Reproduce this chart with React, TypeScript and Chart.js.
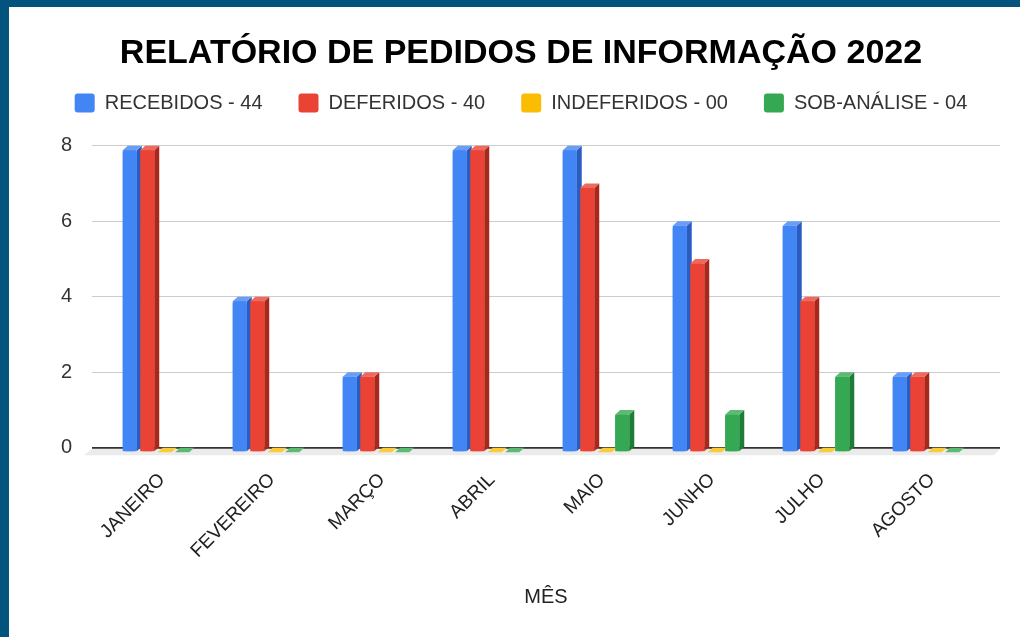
import React, { useEffect, useRef } from "react";
import { Chart, registerables } from "chart.js";

Chart.register(...registerables);

const TITLE = "RELATÓRIO DE PEDIDOS DE INFORMAÇÃO 2022";
const MONTHS = ["JANEIRO", "FEVEREIRO", "MARÇO", "ABRIL", "MAIO", "JUNHO", "JULHO", "AGOSTO"];
const SERIES_NAMES = ["RECEBIDOS - 44", "DEFERIDOS - 40", "INDEFERIDOS - 00", "SOB-ANÁLISE - 04"];
const RECEBIDOS = [8, 4, 2, 8, 8, 6, 6, 2];
const DEFERIDOS = [8, 4, 2, 8, 7, 5, 4, 2];
const INDEFERIDOS = [0, 0, 0, 0, 0, 0, 0, 0];
const SOB_ANALISE = [0, 0, 0, 0, 1, 1, 2, 0];
const Y_TICKS = [0, 2, 4, 6, 8];
const X_TITLE = "MÊS";

const FRONT = ["#4285f4", "#ea4335", "#fbbc04", "#34a853"];
const SIDE = ["#2c5cc0", "#a8291b", "#c89300", "#1f7c36"];
const TOPC = ["#6a9ef6", "#ef6a5e", "#fccb3a", "#5cba73"];

const DX = 5;
const DY = 4.5;

const threeD = {
  id: "threeD",
  beforeDatasetsDraw(chart: any) {
    const { ctx, chartArea: a } = chart;
    ctx.save();
    ctx.fillStyle = "#ebebeb";
    ctx.beginPath();
    ctx.moveTo(a.left, a.bottom + 1);
    ctx.lineTo(a.right, a.bottom + 1);
    ctx.lineTo(a.right - 6, a.bottom + 7.5);
    ctx.lineTo(a.left - 8, a.bottom + 7.5);
    ctx.closePath();
    ctx.fill();
    ctx.restore();
    ctx.save();
    ctx.translate(0, DY);
  },
  afterDatasetsDraw(chart: any) {
    const ctx = chart.ctx;
    ctx.restore();
    ctx.save();
    const bars: any[] = [];
    chart.data.datasets.forEach((_: any, di: number) => {
      const meta = chart.getDatasetMeta(di);
      meta.data.forEach((bar: any) => {
        const p = bar.getProps(["x", "y", "base", "width"], true);
        bars.push({ di, ...p });
      });
    });
    bars.forEach((b) => {
      const l = b.x - b.width / 2;
      const r = b.x + b.width / 2;
      const top = Math.min(b.y, b.base) + DY;
      const bottom = Math.max(b.y, b.base) + DY;
      ctx.fillStyle = SIDE[b.di];
      ctx.beginPath();
      ctx.moveTo(r, top);
      ctx.lineTo(r + DX, top - DY);
      ctx.lineTo(r + DX, bottom - DY);
      ctx.lineTo(r, bottom);
      ctx.closePath();
      ctx.fill();
      ctx.fillStyle = TOPC[b.di];
      ctx.beginPath();
      ctx.moveTo(l, top);
      ctx.lineTo(l + DX, top - DY);
      ctx.lineTo(r + DX, top - DY);
      ctx.lineTo(r, top);
      ctx.closePath();
      ctx.fill();
    });
    bars.forEach((b) => {
      const l = b.x - b.width / 2;
      const top = Math.min(b.y, b.base) + DY;
      const bottom = Math.max(b.y, b.base) + DY;
      if (bottom - top > 0) {
        ctx.fillStyle = FRONT[b.di];
        ctx.fillRect(l, top, b.width, bottom - top);
      }
    });
    ctx.restore();
  },
};

export default function App() {
  const ref = useRef<HTMLCanvasElement | null>(null);

  useEffect(() => {
    document.body.style.margin = "0";
    const canvas = ref.current;
    if (!canvas) return;
    Chart.defaults.font.family = 'Arial, "Liberation Sans", sans-serif';
    const seriesValues = [RECEBIDOS, DEFERIDOS, INDEFERIDOS, SOB_ANALISE];
    const chart = new Chart(canvas, {
      type: "bar",
      data: {
        datasets: seriesValues.map((vals, i) => ({
          label: SERIES_NAMES[i],
          data: vals.map((v, j) => ({ x: j, y: v })),
          backgroundColor: FRONT[i],
          borderWidth: 0,
          borderRadius: 3,
          borderSkipped: false,
          categoryPercentage: 0.6364,
          barPercentage: 0.8,
          clip: false,
          xAxisID: "x",
          yAxisID: "y",
        })) as any,
      },
      options: {
        animation: false,
        responsive: false,
        events: [],
        layout: { padding: 0, autoPadding: false },
        plugins: {
          tooltip: { enabled: false },
          title: {
            display: true,
            text: TITLE,
            color: "#000",
            font: { size: 34, weight: "bold", lineHeight: "7px" } as any,
            padding: { top: 43, bottom: 0 },
          },
          legend: {
            display: true,
            position: "top",
            labels: {
              color: "#333",
              font: { size: 20 },
              boxWidth: 20,
              boxHeight: 19,
              padding: 36,
              useBorderRadius: true,
              borderRadius: 3,
            } as any,
          },
        },
        scales: {
          xTop: {
            axis: "x",
            type: "linear",
            position: "top",
            display: true,
            grid: { display: false },
            border: { display: false },
            ticks: { display: false },
            afterFit: (s: any) => {
              s.height = 22.7;
            },
          } as any,
          yRight: {
            axis: "y",
            type: "linear",
            position: "right",
            display: true,
            grid: { display: false },
            border: { display: false },
            ticks: { display: false },
            afterFit: (s: any) => {
              s.width = 20;
            },
          } as any,
          x: {
            type: "linear",
            position: "bottom",
            offset: false,
            min: -0.5818,
            max: 7.6727,
            grid: { display: false, offset: false },
            border: { display: false },
            afterBuildTicks: (s: any) => {
              s.ticks = MONTHS.map((_, i) => ({ value: i }));
            },
            ticks: {
              autoSkip: false,
              minRotation: 45,
              maxRotation: 45,
              padding: 13,
              labelOffset: 6,
              color: "#222",
              font: { size: 19 },
              callback: (v: any) => MONTHS[v] ?? "",
            },
            title: {
              display: true,
              text: X_TITLE,
              color: "#222",
              font: { size: 20 },
              padding: { top: 0, bottom: 28 },
            },
            afterFit: (s: any) => {
              s.height = 189.3;
              s.paddingLeft = 0;
              s.paddingRight = 0;
            },
          } as any,
          y: {
            type: "linear",
            position: "left",
            min: 0,
            max: 8,
            afterBuildTicks: (s: any) => {
              s.ticks = Y_TICKS.map((v) => ({ value: v }));
            },
            ticks: {
              padding: 20,
              color: "#333",
              font: { size: 20 },
            },
            grid: {
              drawTicks: false,
              color: (c: any) => (c.tick && c.tick.value === 0 ? "#333" : "#cccccc"),
              lineWidth: (c: any) => (c.tick && c.tick.value === 0 ? 2 : 1),
            },
            border: { display: false },
            afterFit: (s: any) => {
              s.width = 70;
              s.paddingTop = 0;
              s.paddingBottom = 0;
            },
          } as any,
        },
      },
      plugins: [threeD],
    });
    return () => chart.destroy();
  }, []);

  return (
    <div
      style={{
        position: "fixed",
        left: 0,
        top: 0,
        width: 1020,
        height: 637,
        background: "#02547f",
        overflow: "hidden",
      }}
    >
      <div
        style={{
          position: "absolute",
          left: 9,
          top: 7,
          right: 0,
          bottom: 0,
          background: "#ffffff",
        }}
      />
      <canvas
        ref={ref}
        width={998}
        height={630}
        style={{ position: "absolute", left: 22, top: 7, width: 998, height: 630 }}
      />
    </div>
  );
}
